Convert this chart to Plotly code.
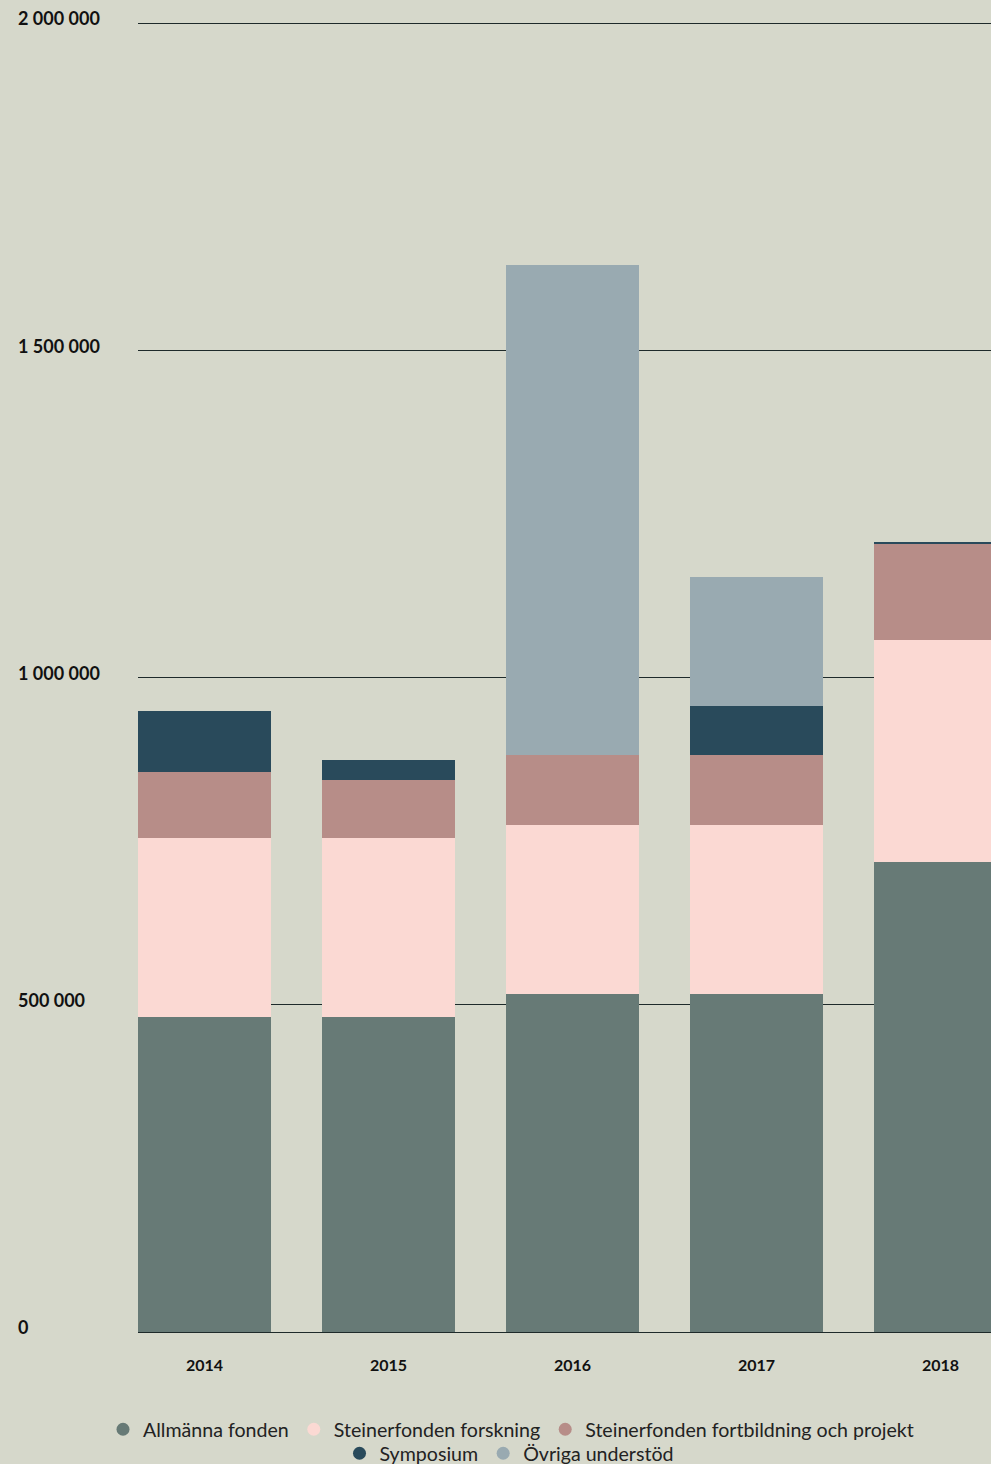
import plotly.graph_objects as go

years = ["2014", "2015", "2016", "2017", "2018"]
allmanna = [481000, 481000, 516000, 516000, 718000]
forskning = [274000, 274000, 258000, 258000, 339000]
fortbildning = [101000, 88000, 107000, 107000, 147000]
symposium = [93000, 31000, 0, 76000, 3000]
ovriga = [0, 0, 750000, 197000, 0]

series_names = ["Allmänna fonden", "Steinerfonden forskning",
                "Steinerfonden fortbildning och projekt", "Symposium", "Övriga understöd"]
series_values = [allmanna, forskning, fortbildning, symposium, ovriga]
colors = ["#677a76", "#fbd9d3", "#b78d88", "#294a5b", "#99aab1"]
y_ticks = [0, 500000, 1000000, 1500000, 2000000]

BG = "#d6d8cb"
FONT = "Lato"

fig = go.Figure()
for name, vals, col in zip(series_names, series_values, colors):
    fig.add_trace(go.Bar(x=years, y=vals, name=name, marker_color=col,
                         marker_line_width=0, showlegend=False))

for i, (name, col) in enumerate(zip(series_names, colors)):
    fig.add_trace(go.Scatter(x=[None], y=[None], mode="markers", name=name,
                             marker=dict(color=col, size=13, symbol="circle"),
                             legend="legend" if i < 3 else "legend2"))

W, H = 991, 1464
fig.update_layout(
    width=W, height=H,
    barmode="stack", bargap=0.2772,
    paper_bgcolor=BG, plot_bgcolor=BG,
    separators=", ",
    margin=dict(l=0, r=0, t=16, b=132, pad=0),
    font=dict(family=FONT, color="#1a1a1a"),
    xaxis=dict(domain=[138 / W, 1], type="category",
               range=[-0.3614, 4.2745], showgrid=False, zeroline=False,
               showline=False, ticks="", ticklabelstandoff=22,
               tickfont=dict(family=FONT, size=16, color="#111", weight="bold")),
    yaxis=dict(anchor="free", position=14 / W, range=[0, 2010695],
               tickvals=y_ticks, tickformat=",d", ticklabelposition="inside",
               ticklabeloverflow="allow", ticklabelshift=-4,
               showgrid=True, gridcolor="#1e2a2a", gridwidth=1,
               zeroline=True, zerolinecolor="#1e2a2a", zerolinewidth=1,
               showline=False, ticks="",
               tickfont=dict(family=FONT, size=18, color="#111", weight="bold")),
    legend=dict(orientation="h", xref="container", x=511 / W, xanchor="center",
                yref="container", y=1 - 1410 / H, yanchor="top",
                traceorder="normal",
                font=dict(family=FONT, size=19.6, color="#222"),
                bgcolor="rgba(0,0,0,0)", itemwidth=30, tracegroupgap=0),
    legend2=dict(orientation="h", xref="container", x=509 / W, xanchor="center",
                 yref="container", y=1 - 1434 / H, yanchor="top",
                 traceorder="normal",
                 font=dict(family=FONT, size=19.6, color="#222"),
                 bgcolor="rgba(0,0,0,0)", itemwidth=30, tracegroupgap=0),
)

fig.write_html("out.html", config={"displayModeBar": False},
               post_script="document.body.style.margin='0';document.body.style.overflow='hidden';")
